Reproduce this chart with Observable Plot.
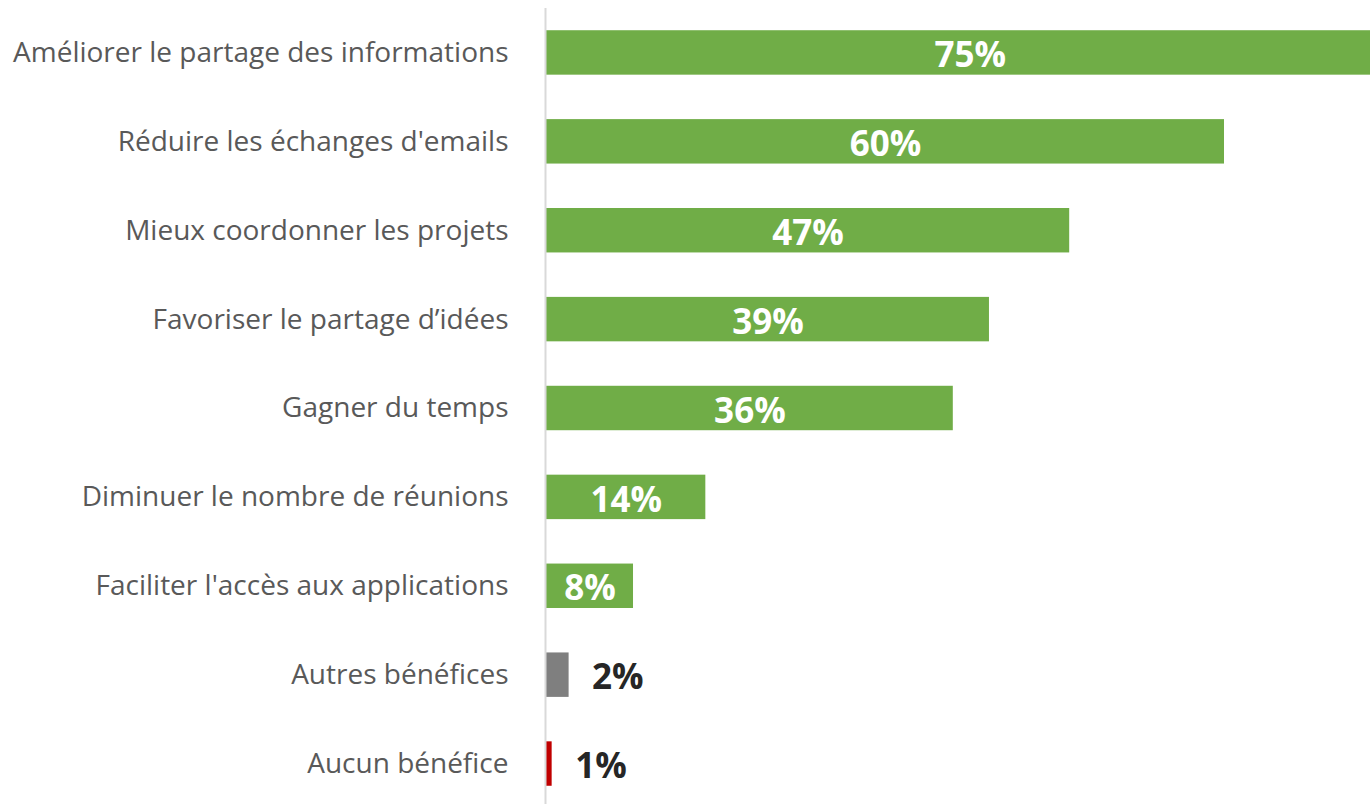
<!DOCTYPE html>
<html>
<head>
<meta charset="utf-8">
<script src="https://cdn.jsdelivr.net/npm/d3@7"></script>
<script src="https://cdn.jsdelivr.net/npm/@observablehq/plot@0.6"></script>
<style>
  html, body { margin: 0; padding: 0; background: #fff; }
  #chart svg { display: block; }
</style>
</head>
<body>
<div id="chart"></div>
<script>
const categories = [
  "Améliorer le partage des informations",
  "Réduire les échanges d'emails",
  "Mieux coordonner les projets",
  "Favoriser le partage d’idées",
  "Gagner du temps",
  "Diminuer le nombre de réunions",
  "Faciliter l'accès aux applications",
  "Autres bénéfices",
  "Aucun bénéfice"
];
const values = [75, 60, 46.3, 39.2, 36, 14.1, 7.7, 2, 0.5];
const valueLabels = ["75%", "60%", "47%", "39%", "36%", "14%", "8%", "2%", "1%"];
const groups = ["main", "main", "main", "main", "main", "main", "main", "other", "none"];

const groupColors = {main: "#70AD47", other: "#7F7F7F", none: "#C00000"};

const data = categories.map((c, i) => ({
  category: c,
  value: values[i],
  label: valueLabels[i],
  group: groups[i]
}));
const inside = data.filter(d => d.group === "main");
const outside = data.filter(d => d.group !== "main");

const font = "'Open Sans', sans-serif";

const chart = Plot.plot({
  width: 1370,
  height: 804,
  marginLeft: 546,
  marginRight: 0,
  marginTop: 8,
  marginBottom: 0,
  style: {fontFamily: font, background: "#fff"},
  x: {domain: [0, 824 / 11.3], axis: null},
  y: {domain: categories, range: [8, 808], paddingInner: 0.5, paddingOuter: 0.25, round: false, label: null},
  marks: [
    Plot.barX(data, {
      y: "category",
      x: "value",
      fill: d => groupColors[d.group],
      clip: true
    }),
    Plot.ruleX([0], {stroke: "#d9d9d9", strokeWidth: 2, dx: -1}),
    Plot.axisY({
      tickSize: 0,
      tickPadding: 38,
      fontSize: 28,
      fill: "#595959",
      label: null
    }),
    Plot.text(inside, {
      y: "category",
      x: d => d.value / 2,
      text: "label",
      fill: "white",
      fontSize: 35,
      fontWeight: "bold",
      dy: 3
    }),
    Plot.text(outside, {
      y: "category",
      x: "value",
      text: "label",
      fill: "#262626",
      fontSize: 35,
      fontWeight: "bold",
      textAnchor: "start",
      dx: 23,
      dy: 3
    })
  ]
});
document.getElementById("chart").appendChild(chart);
</script>
</body>
</html>
